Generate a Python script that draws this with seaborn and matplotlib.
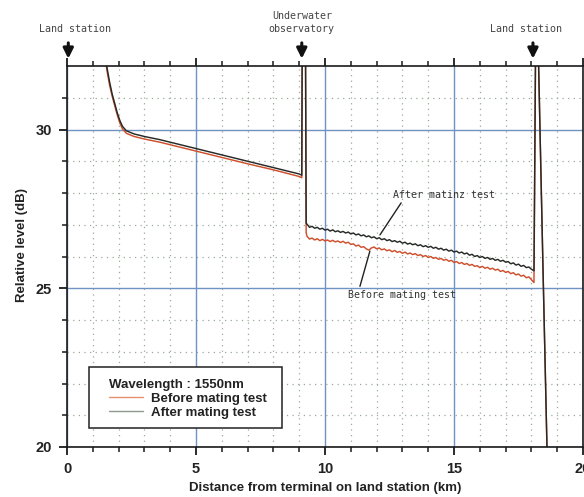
import numpy as np
import pandas as pd
import matplotlib
matplotlib.use("Agg")
import matplotlib.pyplot as plt
from matplotlib.lines import Line2D
from matplotlib.patches import Rectangle
from matplotlib.ticker import FixedLocator
import seaborn as sns

# ---------------- data ----------------
series_names = ["Before mating test", "After mating test"]

# segment 1 (land station -> underwater observatory)
seg1_km = [1.45, 1.55, 1.65, 1.75, 1.85, 1.95, 2.05, 2.15, 2.3, 2.6, 3.0, 3.6,
           4.5, 5.5, 6.2, 7.0, 8.0, 9.0, 9.1]
seg1_before = [32.5, 31.85, 31.4, 31.05, 30.75, 30.45, 30.2, 30.02, 29.88, 29.78,
               29.7, 29.6, 29.42, 29.22, 29.08, 28.92, 28.73, 28.52, 28.48]
seg1_after = [32.6, 31.95, 31.5, 31.12, 30.82, 30.52, 30.28, 30.1, 29.96, 29.86,
              29.78, 29.68, 29.5, 29.3, 29.16, 29.0, 28.8, 28.6, 28.56]

# reflection spike at the underwater observatory
spike1_km = [9.12, 9.24, 9.27]
spike1_before = [33.5, 33.5, 26.75]
spike1_after = [33.5, 33.5, 27.05]

# segment 2 (underwater observatory -> land station), 9.3 .. 18.1 km
seg2_km = [round(9.3 + 0.1 * i, 2) for i in range(89)]
seg2_before = [
    26.64, 26.55, 26.58, 26.52, 26.56, 26.50, 26.54, 26.49, 26.52, 26.47,
    26.51, 26.46, 26.49, 26.44, 26.48, 26.42, 26.45, 26.38, 26.40, 26.33,
    26.36, 26.29, 26.31, 26.24, 26.20, 26.27, 26.30, 26.24, 26.27, 26.21,
    26.24, 26.18, 26.21, 26.15, 26.19, 26.13, 26.16, 26.10, 26.14, 26.08,
    26.11, 26.06, 26.09, 26.03, 26.06, 26.00, 26.03, 25.97, 26.00, 25.94,
    25.97, 25.91, 25.94, 25.88, 25.91, 25.85, 25.88, 25.81, 25.84, 25.78,
    25.81, 25.75, 25.78, 25.72, 25.75, 25.69, 25.71, 25.65, 25.69, 25.63,
    25.66, 25.60, 25.63, 25.57, 25.60, 25.53, 25.56, 25.50, 25.53, 25.46,
    25.49, 25.42, 25.45, 25.38, 25.41, 25.33, 25.36, 25.27, 25.18]
seg2_after = [
    27.02, 26.92, 26.95, 26.89, 26.92, 26.86, 26.89, 26.83, 26.86, 26.80,
    26.84, 26.78, 26.81, 26.76, 26.79, 26.74, 26.77, 26.71, 26.74, 26.68,
    26.71, 26.65, 26.68, 26.62, 26.65, 26.59, 26.62, 26.56, 26.59, 26.53,
    26.56, 26.50, 26.53, 26.47, 26.50, 26.45, 26.48, 26.42, 26.45, 26.39,
    26.42, 26.37, 26.40, 26.34, 26.37, 26.31, 26.34, 26.29, 26.32, 26.26,
    26.29, 26.23, 26.26, 26.20, 26.23, 26.17, 26.20, 26.14, 26.17, 26.11,
    26.14, 26.08, 26.11, 26.04, 26.07, 26.00, 26.03, 25.97, 26.00, 25.94,
    25.97, 25.91, 25.94, 25.88, 25.91, 25.85, 25.88, 25.82, 25.84, 25.77,
    25.80, 25.73, 25.76, 25.69, 25.72, 25.65, 25.67, 25.60, 25.55]

# end reflection at the far land station
end_km = [18.17, 18.22, 18.28, 18.45, 18.62]
end_before = [33.5, 33.5, 32.0, 25.6, 19.4]
end_after = [33.5, 33.5, 32.0, 25.6, 19.4]

x_ticks = [0, 5, 10, 15, 20]
y_ticks = [20, 25, 30]
x_minor = [1, 2, 3, 4, 6, 7, 8, 9, 11, 12, 13, 14, 16, 17, 18, 19]
y_minor = [21, 22, 23, 24, 26, 27, 28, 29, 31]
station_km = [0.05, 9.1, 18.06]
station_labels = ["Land station", "Underwater\nobservatory", "Land station"]
legend_title = "Wavelength : 1550nm"

# ---------------- frame ----------------
rows = []
for name, vals in zip(series_names,
                      [(seg1_before, spike1_before, seg2_before, end_before),
                       (seg1_after, spike1_after, seg2_after, end_after)]):
    kms = seg1_km + spike1_km + seg2_km + end_km
    lv = list(vals[0]) + list(vals[1]) + list(vals[2]) + list(vals[3])
    for i, (k, v) in enumerate(zip(kms, lv)):
        rows.append({"km": k, "level": v, "series": name, "order": i})
df = pd.DataFrame(rows)

sns.set_theme(style="white")
plt.rcParams["font.family"] = ["Liberation Sans", "DejaVu Sans"]

fig = plt.figure(figsize=(5.84, 4.97), dpi=100)
ax = fig.add_axes([67 / 584, 1 - 447 / 497, (583 - 67) / 584, (447 - 66) / 497])

red = "#cf4f2c"
dark = "#262a26"
sns.lineplot(data=df, x="km", y="level", hue="series", palette=[red, dark],
             hue_order=series_names, sort=False, estimator=None,
             linewidth=1.05, ax=ax, legend=False)

ax.set_xlim(0, 20)
ax.set_ylim(20, 32)
ax.set_xticks(x_ticks)
ax.set_yticks(y_ticks)
ax.xaxis.set_minor_locator(FixedLocator(x_minor))
ax.yaxis.set_minor_locator(FixedLocator(y_minor))
ax.set_xticklabels([str(t) for t in x_ticks])
ax.set_yticklabels([str(t) for t in y_ticks])

ax.grid(True, which="major", color="#6f93c2", linewidth=1.0, linestyle="-")
ax.grid(True, which="minor", color="#9aaa9a", linewidth=0.9, linestyle=(0, (1, 3.5)))
ax.set_axisbelow(True)

for s in ax.spines.values():
    s.set_visible(True)
    s.set_color("#1a1a1a")
    s.set_linewidth(1.2)

ax.tick_params(axis="both", which="both", direction="out", color="#1a1a1a",
               top=True, bottom=True, left=True, right=False)
ax.tick_params(axis="both", which="major", length=6, width=1.3,
               labelsize=10.5, pad=5)
ax.tick_params(axis="both", which="minor", length=3.5, width=1.1)
for lab in ax.get_xticklabels() + ax.get_yticklabels():
    lab.set_fontweight("bold")
    lab.set_color("#222222")

ax.set_xlabel("Distance from terminal on land station (km)", fontsize=9.5,
              fontweight="bold", color="#222222", labelpad=4)
ax.set_ylabel("Relative level (dB)", fontsize=9.5, fontweight="bold",
              color="#222222")
ax.yaxis.set_label_coords(-0.075, 0.53)

# station markers on top
mono = "DejaVu Sans Mono"
text_off = [0.25, 0.0, -0.25]
for km, lab, off in zip(station_km, station_labels, text_off):
    ax.annotate("", xy=(km, 1.012), xytext=(km, 1.068),
                xycoords=("data", "axes fraction"),
                textcoords=("data", "axes fraction"),
                arrowprops=dict(arrowstyle="-|>,head_width=0.25,head_length=0.5",
                                color="#111111", lw=2.2),
                annotation_clip=False)
    ax.text(km + off, 1.085, lab, transform=ax.get_xaxis_transform(),
            ha="center", va="bottom", fontsize=7.2, family=mono,
            color="#444444", linespacing=1.3, clip_on=False)

# in-plot annotations
ax.annotate("After matinz test", xy=(12.13, 26.68), xytext=(12.64, 27.95),
            fontsize=7.2, family=mono, color="#333333", va="center", ha="left",
            arrowprops=dict(arrowstyle="-", color="#222222", lw=1.0,
                            shrinkA=0, shrinkB=0, relpos=(0.1, 0.0)))
ax.annotate("Before mating test", xy=(11.74, 26.17), xytext=(10.9, 24.8),
            fontsize=7.2, family=mono, color="#333333", va="center", ha="left",
            arrowprops=dict(arrowstyle="-", color="#222222", lw=1.0,
                            shrinkA=0, shrinkB=0, relpos=(0.1, 1.0)))

# legend (frame drawn separately to match the wide padding of the original)
ax.add_patch(Rectangle((22 / 516, 19 / 381), 193 / 516, 61 / 381,
                       transform=ax.transAxes, facecolor="white",
                       edgecolor="#222222", linewidth=1.1, zorder=4))
handles = [Line2D([0], [0], color="#e8906c", lw=1.0),
           Line2D([0], [0], color="#8c9a8c", lw=1.0)]
leg = ax.legend(handles, series_names, title=legend_title, loc="upper left",
                bbox_to_anchor=(42 / 516, 68 / 381), frameon=False,
                prop=dict(weight="bold", size=9.5), alignment="left",
                title_fontproperties=dict(weight="bold", size=9.5),
                handlelength=2.6, handletextpad=0.6, borderpad=0,
                labelspacing=0.12, borderaxespad=0)
leg.set_zorder(5)
leg.get_title().set_color("#222222")
for t in leg.get_texts():
    t.set_color("#222222")

fig.savefig("out.png", dpi=100)
